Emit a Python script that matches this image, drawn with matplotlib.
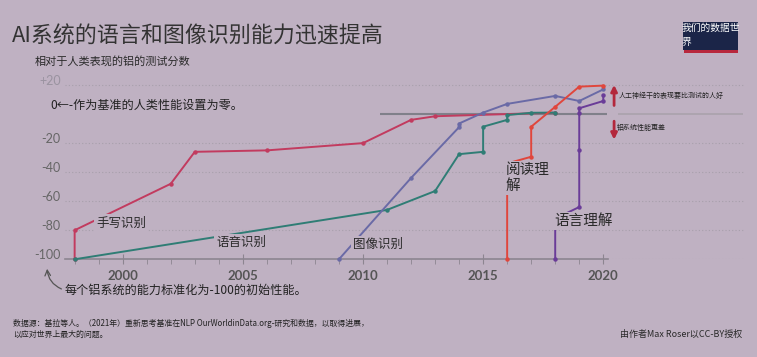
import matplotlib.pyplot as plt
from matplotlib.patches import Rectangle
from matplotlib.transforms import ScaledTranslation

plt.rcParams['font.family'] = ['Noto Sans CJK SC', 'DejaVu Sans']

BG = '#bfb1c2'

# data: test scores relative to human performance (human = 0)
hand_years = [1998, 1998, 2002, 2003, 2006, 2010, 2012, 2013, 2018]
hand_vals = [-100, -80, -48, -26, -25, -20, -4, -1.5, 1]

speech_years = [1998, 2011, 2013, 2014, 2015, 2015, 2016, 2016, 2017, 2018]
speech_vals = [-100, -66, -53, -27.6, -26, -8.7, -4, -0.7, 0.9, 1]

image_years = [2009, 2012, 2014, 2014, 2015, 2016, 2018, 2019, 2020]
image_vals = [-100, -44, -9, -6.5, 1, 7, 12.5, 9, 17]

reading_years = [2016, 2016, 2017, 2017, 2018, 2019, 2020]
reading_vals = [-100, -34, -29.4, -8.7, 5, 18.9, 19.6]

lang_years = [2018, 2018, 2019, 2019, 2019, 2019, 2020, 2020]
lang_vals = [-100, -72, -64, -25, 1, 4, 9, 12.8]

ytick_vals = [-100, -80, -60, -40, -20, 20]
ytick_labels = ['-100', '-80', '-60', '-40', '-20', '+20']
xtick_major = [2000, 2005, 2010, 2015, 2020]

fig = plt.figure(figsize=(7.57, 3.57), dpi=100, facecolor=BG)
ax = fig.add_axes([0.0859, 0.2737, 0.8983, 0.5288])
ax.set_facecolor(BG)
ax.set_xlim(1997.6, 2025.9)
ax.set_ylim(-100, 30)

series = [
    (hand_years, hand_vals, '#c23b5f'),
    (speech_years, speech_vals, '#2f7d75'),
    (image_years, image_vals, '#6a6aa6'),
    (reading_years, reading_vals, '#e0463c'),
    (lang_years, lang_vals, '#6a3c98'),
]
for xs, ys, c in series:
    ax.plot(xs, ys, color=c, lw=1.4, marker='o', ms=2.2, clip_on=False, zorder=3)

# human baseline
ax.hlines(0, 2010.7, 2020.15, color='#80808a', lw=1.5, zorder=2)
ax.hlines(0, 2020.6, 2025.8, color='#aaa2ac', lw=1.2, zorder=2)

for s in ['top', 'right', 'left']:
    ax.spines[s].set_visible(False)
ax.spines['bottom'].set_bounds(1997.6, 2020.2)
ax.spines['bottom'].set_color('#8c8590')
ax.spines['bottom'].set_linewidth(1.2)

ax.set_xticks(xtick_major)
ax.set_xticks(range(1998, 2021), minor=True)
ax.tick_params(axis='x', which='major', direction='inout', length=7, color='#8c8590',
               labelsize=9.5, labelcolor='#555555', pad=4)
ax.tick_params(axis='x', which='minor', direction='out', length=3.5, color='#8c8590')
for lab in ax.get_xticklabels():
    lab.set_fontfamily(['Lato', 'DejaVu Sans'])
    lab.set_fontweight('bold')

ax.set_yticks(ytick_vals)
ax.set_yticklabels(ytick_labels)
ax.tick_params(axis='y', length=0, labelsize=9, labelcolor='#666666', pad=3)
off = ScaledTranslation(0, 0.05, fig.dpi_scale_trans)
for lab in ax.get_yticklabels():
    lab.set_fontfamily(['Lato', 'DejaVu Sans'])
    lab.set_transform(lab.get_transform() + off)
ax.get_yticklabels()[-1].set_color('#9a93a0')
ax.grid(axis='y', ls=(0, (1, 2)), color='#a79fab', lw=0.8)
ax.set_axisbelow(True)

# series labels
lab_kw = dict(color='#2a2a2a', zorder=4, va='center',
              bbox=dict(facecolor=BG, edgecolor='none', pad=1.5))
ax.text(1998.9, -75, '手写识别', fontsize=9, **lab_kw)
ax.text(2003.9, -88.5, '语音识别', fontsize=9, **lab_kw)
ax.text(2009.6, -90, '图像识别', fontsize=9, **lab_kw)
ax.text(2015.95, -44, '阅读理\n解', fontsize=10.5, linespacing=1.2, **lab_kw)
ax.text(2017.95, -73.5, '语言理解', fontsize=10.5, **lab_kw)

# arrows on the right
ax.annotate('', xy=(2020.45, 22), xytext=(2020.45, 4),
            arrowprops=dict(arrowstyle='-|>', color='#b3283c', lw=2, mutation_scale=9))
ax.annotate('', xy=(2020.45, -19.5), xytext=(2020.45, -3),
            arrowprops=dict(arrowstyle='-|>', color='#b3283c', lw=2, mutation_scale=9))
ax.text(2020.65, 12.5, '人工神经干的表现要比测试的人好', fontsize=5.0, color='#222222', va='center')
ax.text(2020.55, -9.5, '铝系统性能更差', fontsize=5.0, color='#222222', va='center')

# texts in figure coords
fig.text(12 / 757, 1 - 37 / 357, 'AI系统的语言和图像识别能力迅速提高', fontsize=15.8,
         color='#333333', va='center')
fig.text(35 / 757, 1 - 61 / 357, '相对于人类表现的铝的测试分数', fontsize=8, color='#2a2a2a', va='center')
fig.text(50 / 757, 1 - 105 / 357, '0←-作为基准的人类性能设置为零。', fontsize=8.7,
         color='#222222', va='center')
fig.text(65 / 757, 1 - 290 / 357, '每个铝系统的能力标准化为-100的初始性能。', fontsize=8.7,
         color='#222222', va='center')
ax.annotate('', xy=(47 / 757, 1 - 266 / 357), xytext=(64 / 757, 1 - 290 / 357),
            xycoords='figure fraction', textcoords='figure fraction',
            arrowprops=dict(arrowstyle='->', color='#555555', lw=0.9,
                            connectionstyle='arc3,rad=-0.35'))

fig.text(13 / 757, 1 - 323 / 357,
         '数据源：基拉等人。（2021年）重新思考基准在NLP OurWorldinData.org-研究和数据，以取得进展，',
         fontsize=5.7, color='#222222', va='center')
fig.text(13 / 757, 1 - 334 / 357, '以应对世界上最大的问题。', fontsize=5.7, color='#222222', va='center')
fig.text(742 / 757, 1 - 334 / 357, '由作者Max Roser以CC-BY授权', fontsize=6.5,
         color='#2a2a2a', va='center', ha='right')

# logo box
fig.patches.append(Rectangle((683 / 757, 1 - 50 / 357), 55 / 757, 28 / 357,
                             transform=fig.transFigure, facecolor='#1b2548', edgecolor='none'))
fig.patches.append(Rectangle((684 / 757, 1 - 53 / 357), 54 / 757, 3 / 357,
                             transform=fig.transFigure, facecolor='#b8283d', edgecolor='none'))
fig.text(682 / 757, 1 - 28 / 357, '我们的数据世', fontsize=7, color='white', va='center')
fig.text(682 / 757, 1 - 42 / 357, '界', fontsize=7, color='white', va='center')

fig.savefig('out.png', dpi=100, facecolor=BG)
